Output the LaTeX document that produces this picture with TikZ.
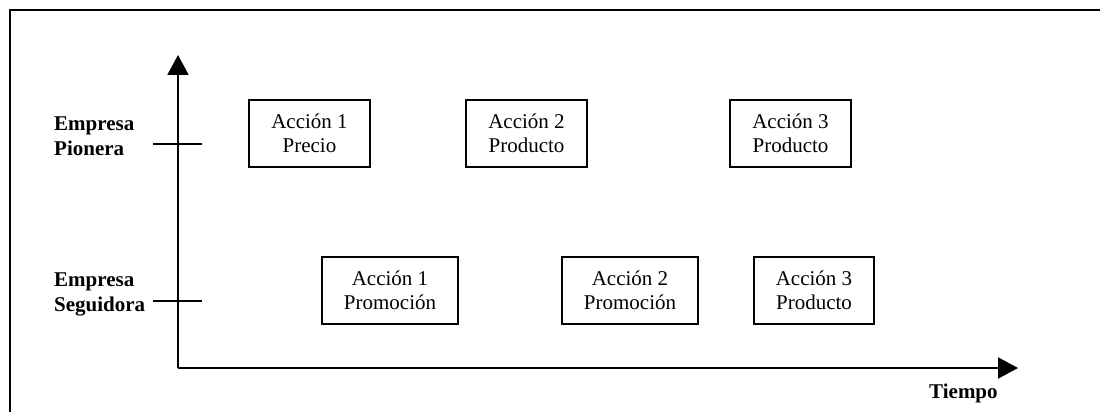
\documentclass[tikz,border=0pt]{standalone}
\usepackage{fontspec}
\setmainfont{Liberation Serif}
\usetikzlibrary{arrows.meta}

\begin{document}
\begin{tikzpicture}[x=1pt,y=-1pt,
  accion/.style={draw,line width=2pt,minimum height=67pt,inner sep=0pt,align=center,font=\fontsize{21}{24}\selectfont},
  empresa/.style={anchor=base west,inner sep=0pt,align=left,font=\fontsize{21}{25}\selectfont\bfseries},
  eje/.style={line width=2pt,-{Triangle[length=20pt,width=21pt]}}]

  \useasboundingbox (0,0) rectangle (1100,412);
  \draw [line width=2pt] (10,412) -- (10,10) -- (1100,10);

  \coordinate (origen) at (178,368);
  \coordinate (ytip) at (178,55);
  \coordinate (xtip) at (1018,368);
  \draw [eje] (origen) -- (ytip);
  \draw [eje] (origen) -- (xtip);

  \coordinate (pa) at (153,144);
  \coordinate (pb) at (202,144);
  \coordinate (sa) at (153,301);
  \coordinate (sb) at (202,301);
  \draw [line width=2pt] (pa) -- (pb);
  \draw [line width=2pt] (sa) -- (sb);

  \node [empresa] (pionera) at (54,155) {Empresa\\Pionera};
  \node [empresa] (seguidora) at (54,311) {Empresa\\Seguidora};
  \node [anchor=base west,inner sep=0pt,font=\fontsize{21}{25}\selectfont\bfseries] (tiempo) at (929,398) {Tiempo};

  \node [accion,minimum width=121pt] (p1) at (309.5,133) {Acción 1\\Precio};
  \node [accion,minimum width=121pt] (p2) at (526.5,133) {Acción 2\\Producto};
  \node [accion,minimum width=121pt] (p3) at (790.5,133) {Acción 3\\Producto};

  \node [accion,minimum width=136pt] (s1) at (390,290.5) {Acción 1\\Promoción};
  \node [accion,minimum width=136pt] (s2) at (630,290.5) {Acción 2\\Promoción};
  \node [accion,minimum width=120pt] (s3) at (814,290.5) {Acción 3\\Producto};

\end{tikzpicture}
\end{document}
